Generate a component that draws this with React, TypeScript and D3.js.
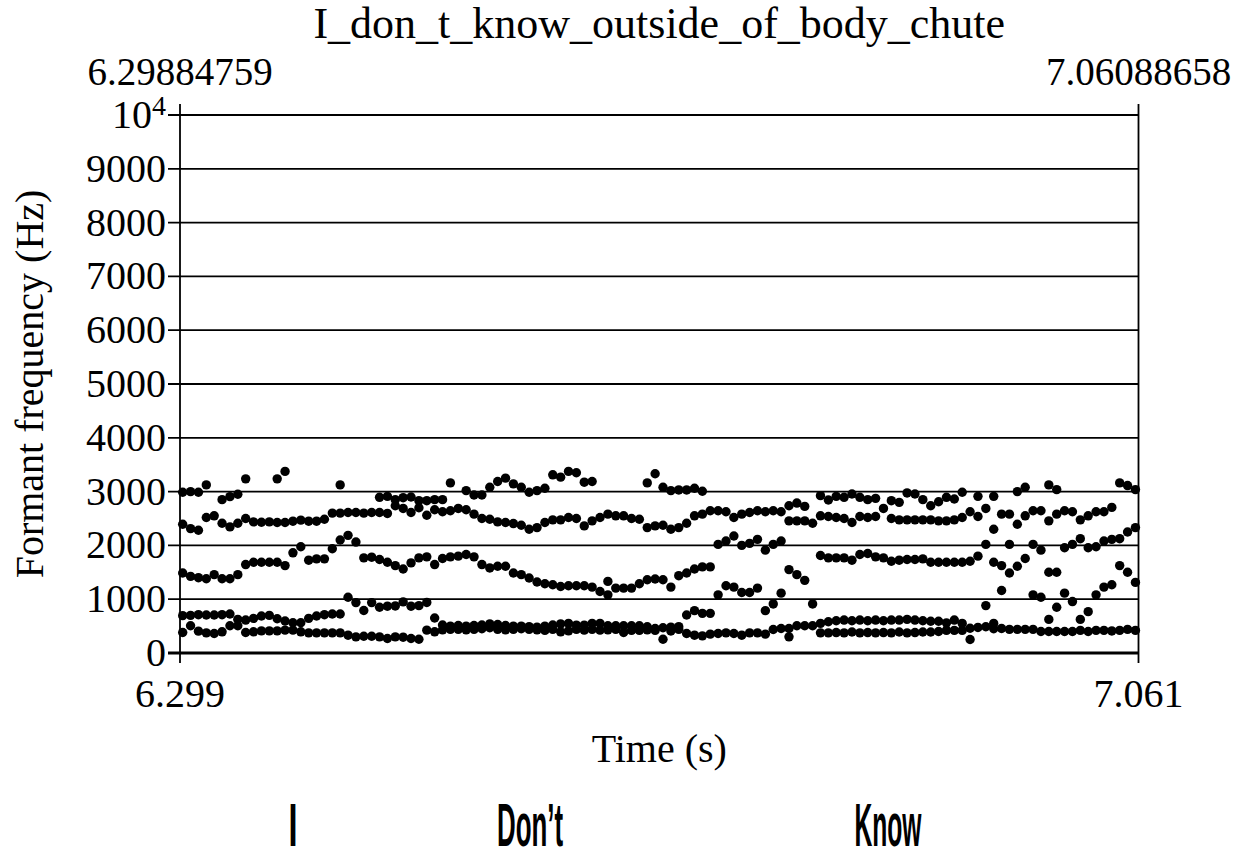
import React from 'react';
import * as d3 from 'd3';

// Praat formant speckle plot
const chartTitle = 'I_don_t_know_outside_of_body_chute';
const timeStartLabel = '6.29884759';
const timeEndLabel = '7.06088658';
const timeStart = 6.29884759;
const timeEnd = 7.06088658;
const bottomTickLabels = ['6.299', '7.061'];
const yTickValues = [0, 1000, 2000, 3000, 4000, 5000, 6000, 7000, 8000, 9000];
const yMax = 10000;

// analysis frames
const firstFrameTime = 6.30099;
const frameStep = 0.00626;

type V = number | null;
const _ = null;

const f1: V[] = [
  381, 506, 406, 375, 362, 394, 506, 506, 381, 394,
  412, 412, 412, 425, 425, 394, 375, 375, 375, 375,
  375, 331, 300, 312, 312, 300, 269, 300, 294, 269,
  256, 425, 394, 430, 440, 440, 430, 440, 450, 470,
  440, 430, 440, 450, 440, 430, 420, 440, 394, 412,
  440, 425, 440, 425, 430, 440, 381, 420, 420, 430,
  420, 256, 410, 440, 362, 331, 319, 350, 362, 375,
  362, 331, 375, 375, 350, 437, 456, 300, 506, 506,
  506, 375, 375, 380, 375, 390, 375, 380, 375, 380,
  375, 390, 375, 380, 390, 390, 400, 420, 420, 420,
  250, 475, 487, 450, 456, 440, 440, 440, 440, 400,
  400, 400, 400, 400, 420, 400, 420, 420, 410, 420,
  440, 420,
];

const f2: V[] = [
  694, 700, 712, 706, 706, 712, 725, 625, 612, 644,
  687, 700, 637, 594, 562, 562, 644, 687, 712, 725,
  725, 1037, 937, 790, 937, 850, 870, 875, 950, 870,
  880, 940, 650, 520, 500, 510, 500, 510, 520, 540,
  530, 510, 500, 500, 490, 480, 500, 520, 540, 550,
  519, 519, 550, 550, 506, 506, 506, 506, 506, 487,
  456, 470, 480, 490, 706, 787, 737, 737, 1081, 1250,
  1225, 1125, 1125, 1206, 787, 912, 1112, 456, 1456, 1350,
  912, 550, 581, 600, 612, 600, 612, 600, 612, 600,
  612, 612, 625, 612, 600, 590, 590, 560, 612, 550,
  460, 1800, 881, 550, 1162, 1487, 1612, 1756, 1081, 1037,
  625, 850, 1112, 956, 625, 769, 1081, 1225, 1269, 1625,
  1500, 1312,
];

const f3: V[] = [
  1487, 1425, 1400, 1381, 1456, 1381, 1381, 1456, 1644, 1687,
  1687, 1687, 1687, 1625, 1862, 1975, 1725, 1750, 1750, 1937,
  2100, 2187, 2062, 1769, 1781, 1737, 1687, 1625, 1562, 1675,
  1769, 1787, 1644, 1756, 1787, 1800, 1831, 1787, 1644, 1581,
  1612, 1612, 1487, 1456, 1394, 1319, 1287, 1269, 1237, 1250,
  1250, 1250, 1225, 1144, 1081, 1206, 1206, 1206, 1287, 1362,
  1375, 1362, 1225, 1437, 1487, 1562, 1600, 1600, 2019, 2081,
  2175, 2000, 2037, 2112, 1912, 2019, 2081, 1550, 2456, 2456,
  2412, 1812, 1769, 1769, 1769, 1725, 1831, 1850, 1787, 1769,
  1706, 1725, 1737, 1737, 1750, 1687, 1687, 1687, 1687, 1687,
  1706, 2537, 2019, 1687, 1625, 2019, 2394, 2550, 2019, 1912,
  1500, 1500, 1956, 2019, 2125, 1956, 1975, 2081, 2112, 2125,
  2250, 2331,
];

const f4: V[] = [
  2394, 2312, 2281, 2519, 2550, 2412, 2344, 2412, 2500, 2437,
  2431, 2437, 2425, 2425, 2450, 2469, 2450, 2450, 2487, 2600,
  2600, 2612, 2612, 2600, 2612, 2612, 2594, 2737, 2687, 2612,
  2700, 2560, 2662, 2625, 2644, 2687, 2662, 2581, 2500, 2487,
  2437, 2425, 2406, 2375, 2300, 2331, 2425, 2475, 2475, 2519,
  2500, 2362, 2456, 2519, 1331, 2550, 2550, 2500, 2487, 2331,
  2362, 2375, 2300, 2331, 2412, 2550, 2581, 2644, 2644, 2625,
  2519, 2581, 2612, 2644, 2625, 2644, 2625, 2456, 2787, 2725,
  _, 2550, 2537, 2519, 2500, 2425, 2537, 2519, 2537, 2687,
  2500, 2475, 2475, 2475, 2475, 2475, 2456, 2456, 2475, 2519,
  2625, 2912, 2687, 2300, 2581, 2581, 3000, 3081, 2644, 2644,
  2456, 2581, 2644, 2625, 2475, 2550, 2625, 2625, 2706, 3162,
  3112, 3037,
];

const f5: V[] = [
  2987, 3000, 2987, 3125, _, 2850, 2906, 2950, 3237, _,
  _, _, 3237, 3375, _, _, _, _, _, _,
  3125, _, _, _, _, 2894, 2912, 2850, 2887, 2900,
  2831, 2831, 2850, 2850, 3162, _, 3019, 2937, 2937, 3081,
  3187, 3250, 3144, 3081, 2987, 3019, 3062, 3312, 3269, 3375,
  3350, 3175, 3187, _, 2581, _, _, _, _, 3162,
  3331, 3081, 3019, 3031, 3031, 3062, 3006, _, _, _,
  _, _, _, _, _, _, _, 2737, _, _,
  _, 2925, 2844, 2912, 2894, 2956, 2894, 2850, 2875, _,
  2831, 2800, 2975, 2956, 2850, 2737, 2812, 2894, 2862, 2987,
  _, _, _, 2912, _, _, _, _, _, _,
  3125, 3037, _, _, _, _, _, _, _, _,
  _, _,
];

const formants = [f1, f2, f3, f4, f5];

const words = ['I', 'Don\u2019t', 'Know'];

const W = 1250;
const H = 861;
const serif = "'Liberation Serif', 'Times New Roman', Times, serif";
const narrow = "'Liberation Sans Narrow', 'Arial Narrow', 'Liberation Sans', Arial, sans-serif";

export default function App() {
  const left = 180;
  const right = 1138.5;
  const top = 115;
  const bottom = 653;

  const x = d3.scaleLinear().domain([timeStart, timeEnd]).range([left, right]);
  const y = d3.scaleLinear().domain([0, yMax]).range([bottom, top]);

  const points: { t: number; f: number }[] = [];
  formants.forEach((arr) => {
    arr.forEach((v, i) => {
      if (v != null) points.push({ t: firstFrameTime + i * frameStep, f: v });
    });
  });

  const gridValues = [...yTickValues, yMax];
  const wordCenters = [293, 530, 888];
  const wordWidths = [9, 66, 67];

  return (
    <svg
      width={W}
      height={H}
      viewBox={`0 0 ${W} ${H}`}
      style={{ position: 'absolute', left: 0, top: 0, background: '#fff' }}
    >
      <rect x={0} y={0} width={W} height={H} fill="#fff" />

      {/* horizontal grid + left ticks */}
      {gridValues.map((v) => (
        <line
          key={'g' + v}
          x1={left - 12}
          x2={right}
          y1={y(v)}
          y2={y(v)}
          stroke="#000"
          strokeWidth={v === 0 ? 2.8 : 1.8}
        />
      ))}

      {/* vertical axis lines with ticks above/below */}
      {[left, right].map((px) => (
        <line key={'v' + px} x1={px} x2={px} y1={top - 11} y2={bottom + 10} stroke="#000" strokeWidth={1.8} />
      ))}

      {/* formant dots */}
      {points.map((p, i) => (
        <circle key={i} cx={x(p.t)} cy={y(p.f)} r={4.7} fill="#000" />
      ))}

      <g fontFamily={serif} fontSize={40} fill="#000">
        <text x={(left + right) / 2} y={38} textAnchor="middle" fontSize={44}>{chartTitle}</text>
        <text x={x(timeStart)} y={85} textAnchor="middle" fontSize={39}>{timeStartLabel}</text>
        <text x={x(timeEnd)} y={85} textAnchor="middle" fontSize={39}>{timeEndLabel}</text>

        {yTickValues.map((v) => (
          <text key={'yl' + v} x={left - 14} y={y(v) + 13} textAnchor="end">{v}</text>
        ))}
        <text x={left - 14} y={y(yMax) + 13} textAnchor="end">
          10<tspan fontSize={28} dy={-13}>4</tspan>
        </text>

        <text x={x(timeStart)} y={707} textAnchor="middle">{bottomTickLabels[0]}</text>
        <text x={x(timeEnd)} y={707} textAnchor="middle">{bottomTickLabels[1]}</text>

        <text x={(left + right) / 2} y={762} textAnchor="middle">Time (s)</text>
        <text
          transform={`translate(43, ${(top + bottom) / 2}) rotate(-90)`}
          textAnchor="middle"
        >
          Formant frequency (Hz)
        </text>
      </g>

      <g fontFamily={narrow} fontWeight="bold" fontSize={62} fill="#000">
        {words.map((w, i) => (
          <text
            key={w}
            x={wordCenters[i] - wordWidths[i] / 2}
            y={846}
            textLength={wordWidths[i]}
            lengthAdjust="spacingAndGlyphs"
          >
            {w}
          </text>
        ))}
      </g>
    </svg>
  );
}
